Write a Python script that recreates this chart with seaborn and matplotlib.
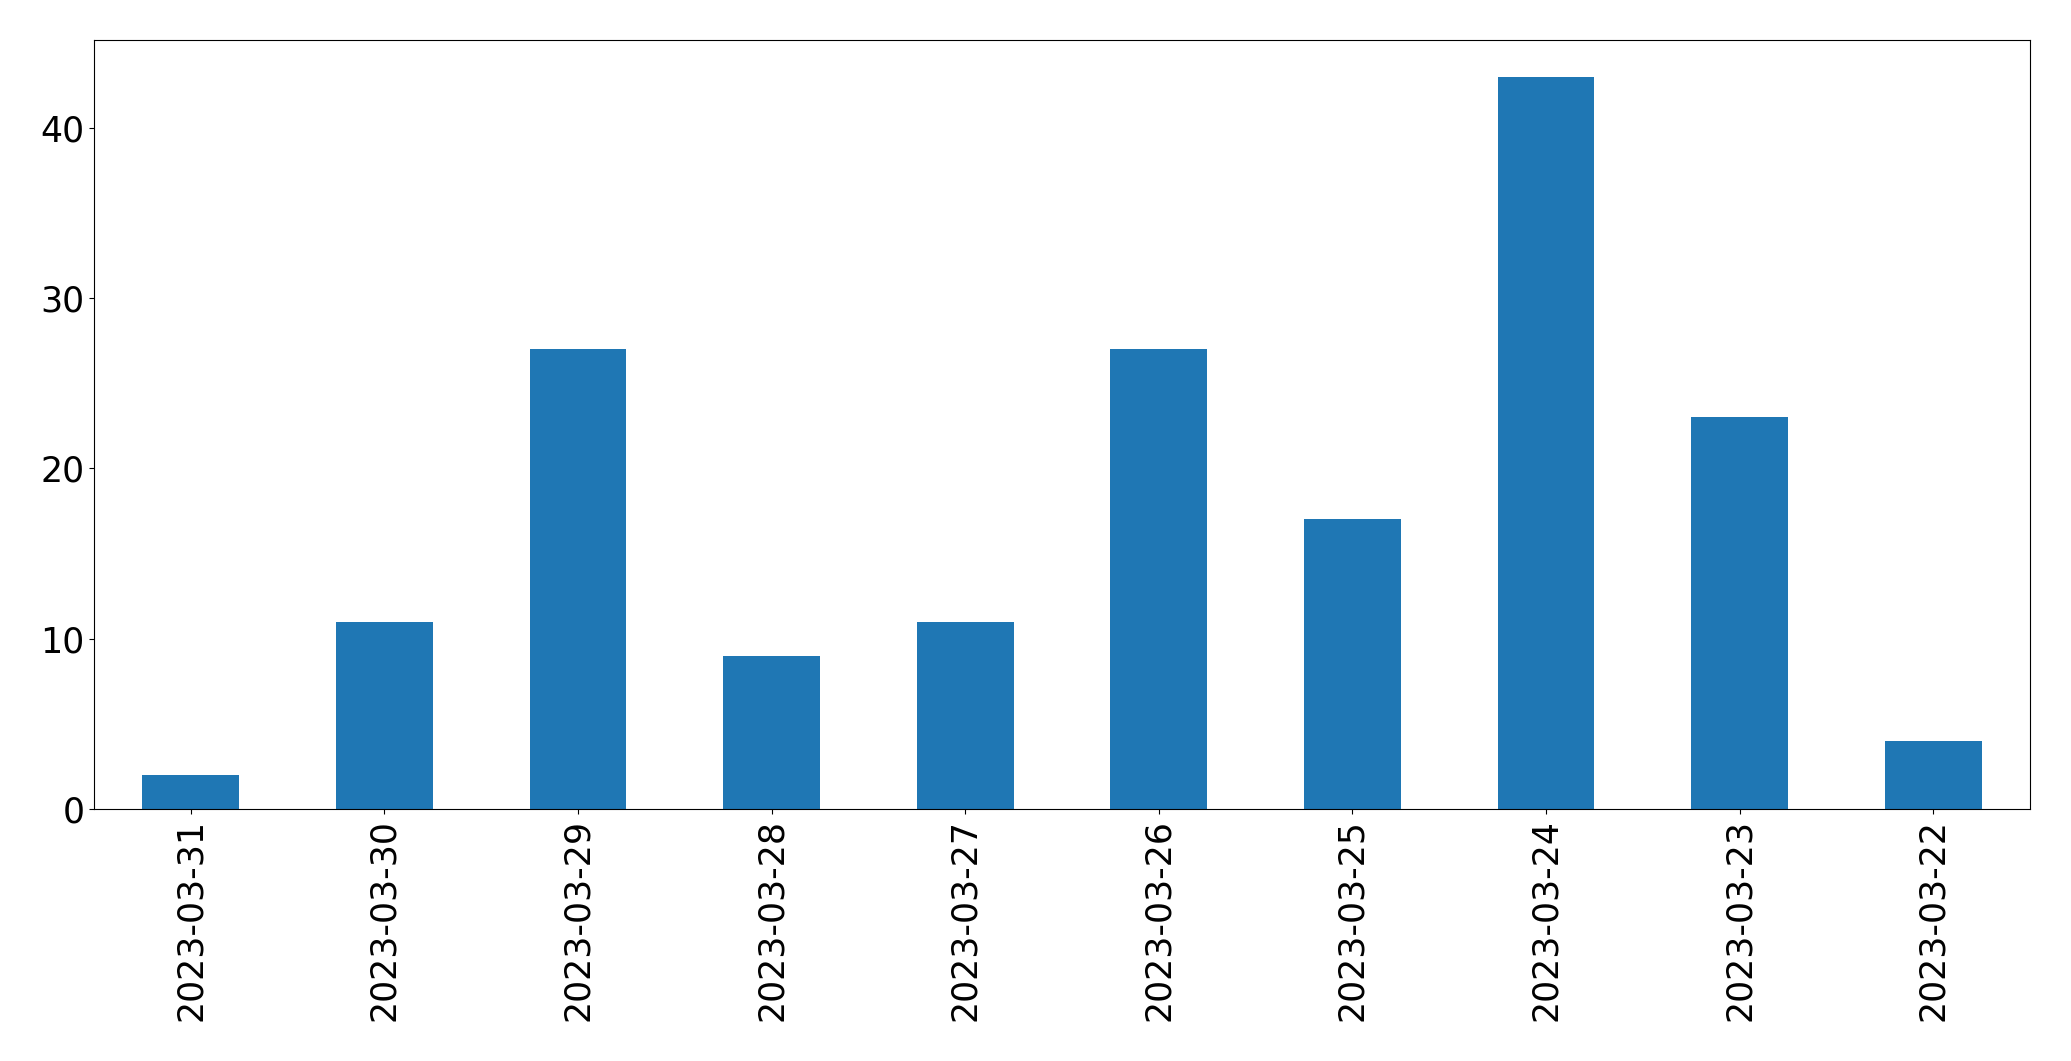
import matplotlib
matplotlib.use("Agg")
import matplotlib.pyplot as plt
import seaborn as sns
import pandas as pd

dates = ["2023-03-31", "2023-03-30", "2023-03-29", "2023-03-28", "2023-03-27",
         "2023-03-26", "2023-03-25", "2023-03-24", "2023-03-23", "2023-03-22"]
counts = [2, 11, 27, 9, 11, 27, 17, 43, 23, 4]

df = pd.DataFrame({"date": dates, "count": counts})

fig = plt.figure(figsize=(20.71, 10.61), dpi=100)
ax = fig.add_axes([94/2071, 1 - 809/1061, (2030-94)/2071, (809-40)/1061])
sns.barplot(data=df, x="date", y="count", color="#1f77b4", saturation=1,
            width=0.5, ax=ax)
ax.set_xlabel("")
ax.set_ylabel("")
ax.set_ylim(0, 45.15)
ax.set_xlim(-0.5, len(dates) - 0.5)
ax.tick_params(axis="both", labelsize=25)
plt.setp(ax.get_xticklabels(), rotation=90)
fig.savefig("out.png", dpi=100)
